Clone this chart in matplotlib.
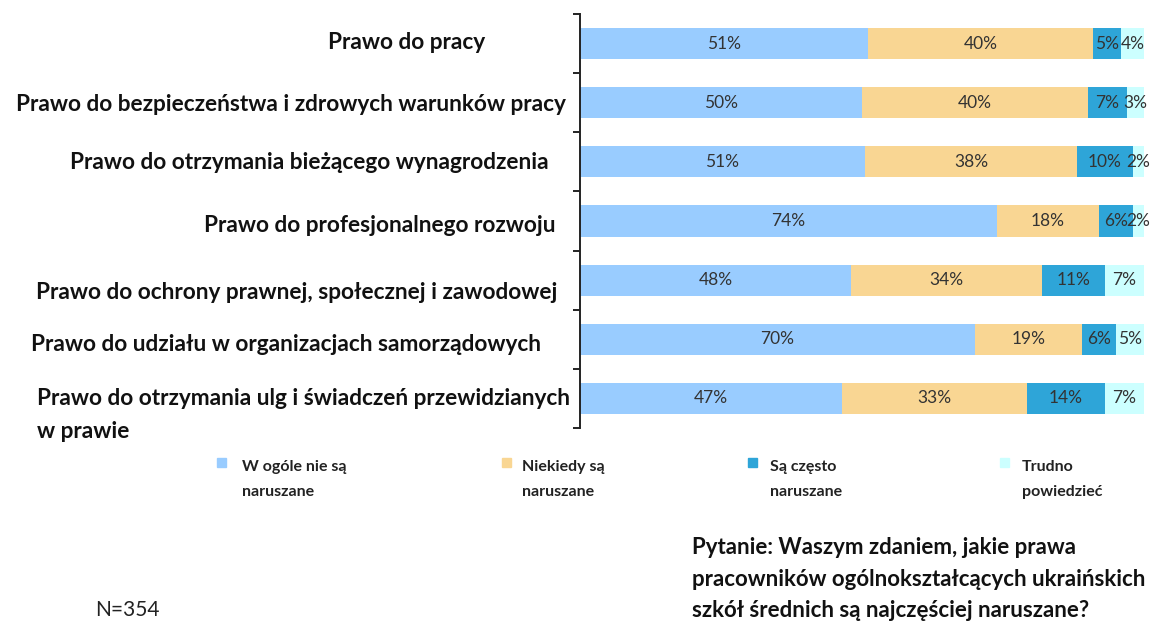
import numpy as np
import matplotlib
matplotlib.use("Agg")
from matplotlib import pyplot as plt
from matplotlib.patches import Rectangle
from matplotlib.transforms import blended_transform_factory

plt.rcParams['font.family'] = ['Lato', 'DejaVu Sans']

categories = [
    "Prawo do pracy",
    "Prawo do bezpieczeństwa i zdrowych warunków pracy",
    "Prawo do otrzymania bieżącego wynagrodzenia",
    "Prawo do profesjonalnego rozwoju",
    "Prawo do ochrony prawnej, społecznej i zawodowej",
    "Prawo do udziału w organizacjach samorządowych",
    "Prawo do otrzymania ulg i świadczeń przewidzianych\nw prawie",
]
series_names = [
    "W ogóle nie są\nnaruszane",
    "Niekiedy są\nnaruszane",
    "Są często\nnaruszane",
    "Trudno\npowiedzieć",
]
never = [51, 50, 51, 74, 48, 70, 47]
sometimes = [40, 40, 38, 18, 34, 19, 33]
often = [5, 7, 10, 6, 11, 6, 14]
hard_to_say = [4, 3, 2, 2, 7, 5, 7]

colors = ["#99CCFF", "#F9D693", "#2EA5D8", "#CCFFFF"]

# label placement (right edge in px, vertical nudge in rows)
label_right = [485, 566, 549, 556, 557, 541, 570]
label_dy = [-0.06, 0.0, -0.03, 0.04, 0.17, 0.05, -0.17]

W, H = 1152, 625
fig = plt.figure(figsize=(W / 100, H / 100), dpi=100)
ax = fig.add_axes([580 / W, 197 / H, 564 / W, 414 / H])

data = np.array([never, sometimes, often, hard_to_say], dtype=float)
shares = data / data.sum(axis=0)
y = np.arange(len(categories))

left = np.zeros(len(categories))
for i in range(len(series_names)):
    bars = ax.barh(y, shares[i], left=left, height=0.525, color=colors[i])
    ax.bar_label(bars, labels=[f"{int(v)}%" for v in data[i]], label_type='center',
                 fontsize=12.5, color="#333333")
    left += shares[i]

ax.set_xlim(0, 1)
ax.set_ylim(len(categories) - 0.5, -0.5)
ax.set_yticks(np.arange(-0.5, len(categories) + 0.5, 1))
ax.set_yticklabels([])
ax.tick_params(axis='y', direction='out', length=5, width=1.4, color="#222222")
ax.set_xticks([])
for s in ['top', 'right', 'bottom']:
    ax.spines[s].set_visible(False)
ax.spines['left'].set_linewidth(1.4)
ax.spines['left'].set_color("#222222")

# category labels
trans = blended_transform_factory(fig.transFigure, ax.transData)
for i, cat in enumerate(categories):
    multi = "\n" in cat
    ax.text(label_right[i] / W, i + label_dy[i], cat, transform=trans, ha='right',
            va='top' if multi else 'center_baseline', multialignment='left',
            fontsize=16.3, fontweight='bold', color="#111111", linespacing=1.68)

# legend
marker_x = [217, 502, 748, 1000]
text_x = [242, 522, 770, 1022]
for i, name in enumerate(series_names):
    fig.patches.append(Rectangle((marker_x[i] / W, 1 - 467 / H), 9 / W, 9 / H,
                                 transform=fig.transFigure, color=colors[i]))
    fig.text(text_x[i] / W, 1 - 460 / H, name, ha='left', va='top',
             fontsize=11.5, fontweight='bold', color="#222222", linespacing=2.0)

fig.text(692 / W, 1 - 537 / H,
         "Pytanie: Waszym zdaniem, jakie prawa\n"
         "pracowników ogólnokształcących ukraińskich\n"
         "szkół średnich są najczęściej naruszane?",
         ha='left', va='top', fontsize=16, fontweight='bold',
         color="#111111", linespacing=1.62)
fig.text(95 / W, 1 - 608 / H, "N=354", ha='left', va='center_baseline',
         fontsize=15, color="#222222")

fig.savefig("out.png", dpi=100)
